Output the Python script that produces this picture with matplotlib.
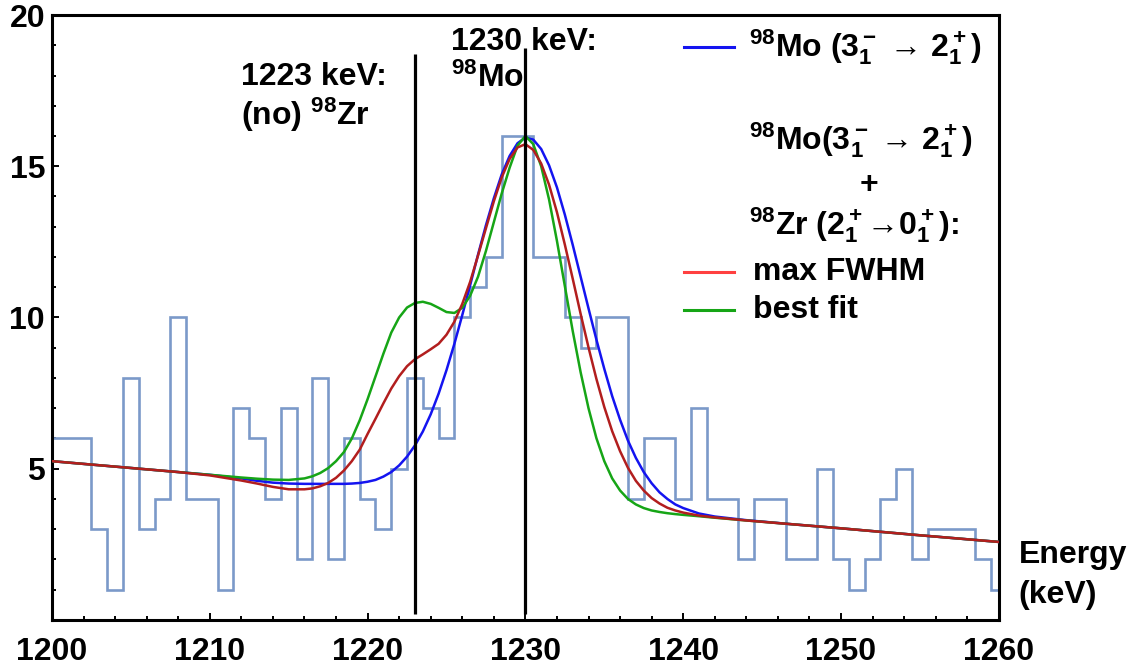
import matplotlib
matplotlib.use("Agg")
import matplotlib.pyplot as plt
import numpy as np
from matplotlib.ticker import MultipleLocator

plt.rcParams['font.family'] = ['Liberation Sans', 'DejaVu Sans']
plt.rcParams['font.weight'] = 'bold'
plt.rcParams['mathtext.fontset'] = 'custom'
plt.rcParams['mathtext.rm'] = 'Liberation Sans:bold'
plt.rcParams['mathtext.it'] = 'Liberation Sans:bold'
plt.rcParams['mathtext.bf'] = 'Liberation Sans:bold'

# Histogram: bin centres (keV) and counts
bin_energy = np.arange(1200, 1261)
counts = [6, 6, 6, 3, 1, 8, 3, 4, 10, 4,
          4, 1, 7, 6, 4, 7, 2, 8, 2, 6,
          4, 3, 5, 8, 7, 6, 10, 11, 12, 16,
          16, 12, 12, 10, 9, 10, 10, 4, 6, 6,
          4, 7, 4, 4, 2, 4, 4, 2, 2, 5,
          2, 1, 2, 4, 5, 2, 3, 3, 3, 2,
          1]

# Fit curves
fit_energy = [1200, 1204, 1208, 1210, 1212, 1213, 1214, 1215,
              1216, 1216.5, 1217, 1217.5, 1218, 1218.5, 1219, 1219.5,
              1220, 1220.5, 1221, 1221.5, 1222, 1222.5, 1223, 1223.5,
              1224, 1224.5, 1225, 1225.5, 1226, 1226.5, 1227, 1227.5,
              1228, 1228.5, 1229, 1229.5, 1230, 1230.5, 1231, 1231.5,
              1232, 1232.5, 1233, 1233.5, 1234, 1234.5, 1235, 1235.5,
              1236, 1236.5, 1237, 1237.5, 1238, 1238.5, 1239, 1239.5,
              1240, 1241, 1242, 1244, 1247, 1250, 1255, 1260]

fit_mo = [5.25, 5.07, 4.89, 4.80, 4.68, 4.60, 4.54, 4.51,
          4.50, 4.50, 4.50, 4.50, 4.50, 4.50, 4.51, 4.53,
          4.57, 4.63, 4.74, 4.89, 5.11, 5.40, 5.77, 6.23,
          6.80, 7.48, 8.26, 9.13, 10.08, 11.07, 12.08, 13.05,
          13.94, 14.73, 15.34, 15.76, 15.95, 15.88, 15.57, 15.03,
          14.30, 13.40, 12.40, 11.35, 10.30, 9.27, 8.30, 7.40,
          6.62, 5.93, 5.36, 4.89, 4.52, 4.22, 4.00, 3.82,
          3.70, 3.52, 3.42, 3.30, 3.16, 3.03, 2.80, 2.58]

fit_maxfwhm = [5.25, 5.07, 4.89, 4.78, 4.61, 4.51, 4.40, 4.32,
               4.32, 4.35, 4.42, 4.53, 4.70, 4.94, 5.25, 5.63,
               6.15, 6.65, 7.16, 7.65, 8.06, 8.39, 8.62, 8.78,
               8.95, 9.13, 9.43, 9.86, 10.45, 11.18, 12.05, 12.95,
               13.84, 14.63, 15.24, 15.62, 15.73, 15.54, 15.09, 14.39,
               13.48, 12.41, 11.28, 10.12, 9.01, 7.97, 7.04, 6.24,
               5.58, 5.03, 4.60, 4.28, 4.03, 3.85, 3.71, 3.62,
               3.55, 3.45, 3.39, 3.29, 3.16, 3.03, 2.80, 2.58]

fit_best = [5.25, 5.07, 4.89, 4.80, 4.71, 4.67, 4.64, 4.63,
            4.68, 4.75, 4.86, 5.02, 5.25, 5.55, 6.00, 6.60,
            7.30, 8.05, 8.80, 9.50, 10.00, 10.33, 10.48, 10.52,
            10.45, 10.32, 10.18, 10.15, 10.32, 10.72, 11.35, 12.20,
            13.15, 14.10, 14.95, 15.68, 16.00, 15.73, 15.00, 13.90,
            12.53, 11.04, 9.55, 8.19, 7.00, 6.01, 5.25, 4.68,
            4.28, 4.00, 3.82, 3.70, 3.62, 3.57, 3.53, 3.50,
            3.475, 3.43, 3.38, 3.29, 3.16, 3.03, 2.80, 2.58]

marker_lines = [1223, 1230]

fig = plt.figure(figsize=(11.35, 6.67), dpi=100)
ax = fig.add_axes([0.0458, 0.0705, 0.8342, 0.907])

# histogram outline, edges at half-integers, clipped to the axis range
edges = np.r_[bin_energy - 0.5, bin_energy[-1] + 0.5]
edges = np.clip(edges, 1200, 1260)
ax.stairs(counts, edges, baseline=0, color='#7b99c9', lw=1.9, zorder=2)

ax.plot(fit_energy, fit_mo, color='#1414f0', lw=1.8, zorder=3)
ax.plot(fit_energy, fit_best, color='#16a516', lw=1.8, zorder=4)
ax.plot(fit_energy, fit_maxfwhm, color='#b21e1e', lw=1.8, zorder=5)

ax.vlines(marker_lines[0], 0.2, 18.7, color='black', lw=2.3, zorder=6)
ax.vlines(marker_lines[1], 0.2, 18.9, color='black', lw=2.3, zorder=6)

ax.set_xlim(1200, 1260)
ax.set_ylim(0, 20)
ax.set_xticks(range(1200, 1261, 10))
ax.set_yticks([5, 10, 15, 20])
ax.xaxis.set_minor_locator(MultipleLocator(2))
ax.yaxis.set_minor_locator(MultipleLocator(1))
ax.tick_params(which='both', direction='in', top=False, right=False,
               labelsize=23, width=1.4)
ax.tick_params(which='major', length=5)
ax.tick_params(which='minor', length=3)
ax.tick_params(axis='x', pad=12)
ax.tick_params(axis='y', pad=5)
for lab in ax.get_xticklabels() + ax.get_yticklabels():
    lab.set_fontweight('bold')
for sp in ax.spines.values():
    sp.set_linewidth(2.2)

fs = 23
ax.text(1212.0, 17.95, '1223 keV:', fontsize=fs, fontweight='bold', va='center')
ax.text(1212.0, 16.7, '(no) $^{98}$Zr', fontsize=fs, fontweight='bold', va='center')
ax.text(1225.3, 19.1, '1230 keV:', fontsize=fs, fontweight='bold', va='center')
ax.text(1225.3, 17.9, '$^{98}$Mo', fontsize=fs, fontweight='bold', va='center')

# legend, drawn by hand
tr = ax.transAxes
ax.plot([0.667, 0.720], [0.947, 0.947], color='#1414f0', lw=2.2, transform=tr, clip_on=False)
ax.plot([0.667, 0.720], [0.575, 0.575], color='#ff4040', lw=2.2, transform=tr, clip_on=False)
ax.plot([0.667, 0.720], [0.512, 0.512], color='#16a516', lw=2.2, transform=tr, clip_on=False)
ax.text(0.736, 0.947, '$^{98}$Mo (3$_1^-$ \u2192 2$_1^+$)', transform=tr,
        fontsize=fs, fontweight='bold', va='center')
ax.text(0.736, 0.793, '$^{98}$Mo(3$_1^-$ \u2192 2$_1^+$)', transform=tr,
        fontsize=fs, fontweight='bold', va='center')
ax.text(0.863, 0.719, '+', transform=tr, fontsize=fs, fontweight='bold',
        va='center', ha='center')
ax.text(0.736, 0.653, '$^{98}$Zr (2$_1^+$\u21920$_1^+$):', transform=tr,
        fontsize=fs, fontweight='bold', va='center')
ax.text(0.740, 0.575, 'max FWHM', transform=tr, fontsize=fs, fontweight='bold', va='center')
ax.text(0.740, 0.512, 'best fit', transform=tr, fontsize=fs, fontweight='bold', va='center')

ax.text(1.021, 0.107, 'Energy', transform=tr, fontsize=fs, fontweight='bold',
        va='center', clip_on=False)
ax.text(1.021, 0.041, '(keV)', transform=tr, fontsize=fs, fontweight='bold',
        va='center', clip_on=False)

fig.savefig('out.png', dpi=100)
